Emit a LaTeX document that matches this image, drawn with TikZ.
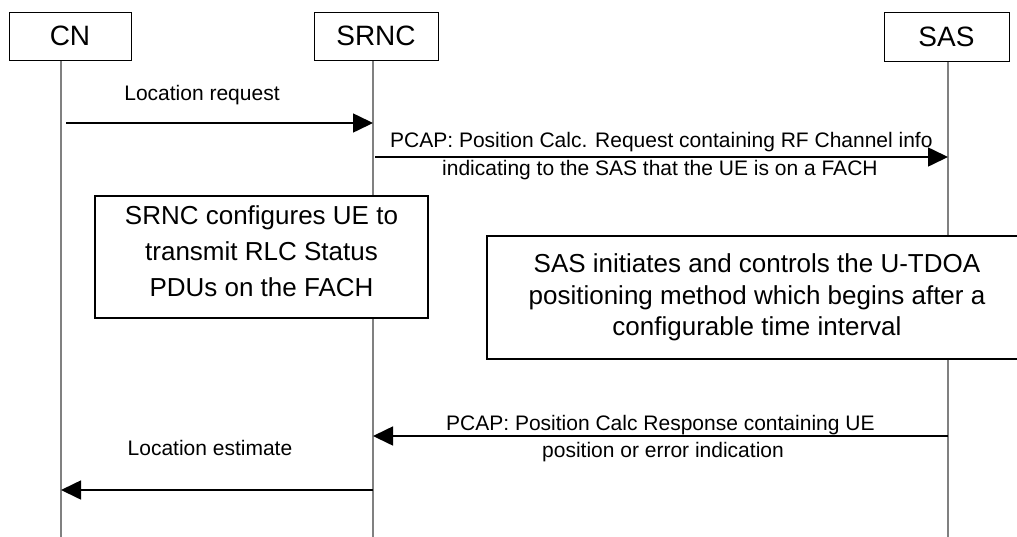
\documentclass[tikz,border=0pt]{standalone}
\usepackage{fontspec}
\setmainfont{Liberation Sans}
\usetikzlibrary{arrows.meta}
\begin{document}
\begin{tikzpicture}[x=1pt,y=-1pt,
  hdr/.style={draw=black,line width=1pt,fill=white,inner sep=0pt,font=\fontsize{28}{32}\selectfont},
  lifeline/.style={draw=black!50,line width=1.5pt},
  msg/.style={draw=black,line width=1.6pt,-{Triangle[length=20pt,width=19pt]}},
  lbl/.style={inner sep=0pt,font=\fontsize{21}{27}\selectfont},
  actbox/.style={draw=black,line width=1.5pt,fill=white,align=center,inner sep=0pt}
]
\useasboundingbox (0,0) rectangle (1017,536);
% lifeline coordinates
\coordinate (cnt) at (61,60);   \coordinate (cnb) at (61,540);
\coordinate (srt) at (373,60);  \coordinate (srb) at (373,540);
\coordinate (sat) at (948,61);  \coordinate (sab) at (948,540);
\draw[lifeline] (cnt) -- (cnb);
\draw[lifeline] (srt) -- (srb);
\draw[lifeline] (sat) -- (sab);
% headers
\node[hdr,minimum width=122pt,minimum height=48pt] (cn) at (70,36) {CN};
\node[hdr,minimum width=124pt,minimum height=48pt] (srnc) at (376,36) {SRNC};
\node[hdr,minimum width=125pt,minimum height=49pt] (sas) at (946.5,36.5) {SAS};
% action boxes
\node[actbox,minimum width=333pt,minimum height=122pt] (srbox) at (261.5,257) {};
\node[align=center,inner sep=0pt,font=\fontsize{26}{36}\selectfont] (srtext) at (261.5,251)
  {SRNC configures UE to\\transmit RLC Status\\PDUs on the FACH};
\node[actbox,minimum width=540pt,minimum height=123pt,font=\fontsize{26}{31.5}\selectfont] (sabox) at (757,297.5)
  {SAS initiates and controls the U-TDOA\\positioning method which begins after a\\configurable time interval};
% message end points
\coordinate (m1s) at (66,123);  \coordinate (m1e) at (373,123);
\coordinate (m2s) at (375,157); \coordinate (m2e) at (948,157);
\coordinate (m3s) at (948,436); \coordinate (m3e) at (373,436);
\coordinate (m4s) at (373,490); \coordinate (m4e) at (61,490);
\draw[msg] (m1s) -- (m1e);
\draw[msg] (m2s) -- (m2e);
\draw[msg] (m3s) -- (m3e);
\draw[msg] (m4s) -- (m4e);
% labels
\node[lbl] (l1) at (202,95) {Location request};
\node[lbl,anchor=west] (l2a) at (390,142) {PCAP: Position Calc. Request containing RF Channel info};
\node[lbl,anchor=west] (l2b) at (442,170) {indicating to the SAS that the UE is on a FACH};
\node[lbl,anchor=west] (l3a) at (446,425) {PCAP: Position Calc Response containing UE};
\node[lbl,anchor=west] (l3b) at (542,452) {position or error indication};
\node[lbl] (l4) at (210,448) {Location estimate};
\end{tikzpicture}
\end{document}
